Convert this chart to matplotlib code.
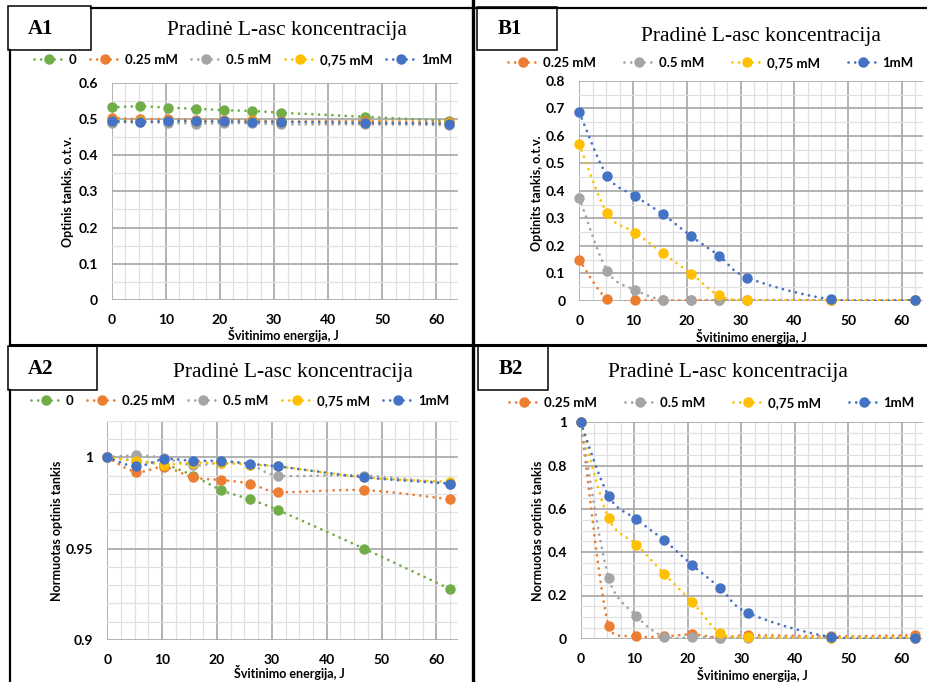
import numpy as np
import matplotlib
matplotlib.use("Agg")
import matplotlib.pyplot as plt
from matplotlib.lines import Line2D
from matplotlib.patches import Rectangle
from matplotlib.ticker import MultipleLocator, FormatStrFormatter
from matplotlib.transforms import Affine2D

# švitinimo energija, J
energija = [0, 5.2, 10.4, 15.6, 20.8, 26, 31.2, 46.8, 62.4]

# A1 - optinis tankis
a1_0 = [0.532, 0.535, 0.531, 0.528, 0.524, 0.522, 0.517, 0.506, 0.494]
a1_025 = [0.503, 0.499, 0.500, 0.497, 0.497, 0.496, 0.493, 0.494, 0.491]
a1_05 = [0.490, 0.491, 0.489, 0.487, 0.488, 0.488, 0.485, 0.485, 0.483]
a1_075 = [0.495, 0.494, 0.493, 0.494, 0.493, 0.493, 0.492, 0.490, 0.488]
a1_1 = [0.494, 0.492, 0.494, 0.493, 0.493, 0.492, 0.492, 0.489, 0.487]

# A2 - normuotas
a2_0 = [1, 0.998, 0.996, 0.990, 0.982, 0.977, 0.971, 0.950, 0.928]
a2_025 = [1, 0.992, 0.9946, 0.989, 0.9875, 0.9856, 0.981, 0.982, 0.977]
a2_05 = [1, 1.001, 0.9996, 0.9955, 0.997, 0.996, 0.990, 0.990, 0.9856]
a2_075 = [1, 0.998, 0.996, 0.997, 0.9968, 0.996, 0.995, 0.989, 0.9865]
a2_1 = [1, 0.995, 0.999, 0.998, 0.998, 0.9964, 0.995, 0.989, 0.9856]

# B1 - optinis tankis
b1_025 = [0.148, 0.006, 0.002, 0.001, 0.001, 0.001, 0.001, 0.001, 0.001]
b1_05 = [0.375, 0.108, 0.039, 0.002, 0.002, 0.002, 0.002, 0.002, 0.002]
b1_075 = [0.570, 0.318, 0.248, 0.172, 0.099, 0.019, 0.002, 0.001, 0.001]
b1_1 = [0.686, 0.454, 0.381, 0.314, 0.235, 0.164, 0.084, 0.005, 0.002]

# B2 - normuotas
b2_025 = [1, 0.059, 0.012, 0.011, 0.020, 0.006, 0.017, 0.011, 0.017]
b2_05 = [1, 0.282, 0.105, 0.009, 0.008, 0.005, 0.005, 0.005, 0.005]
b2_075 = [1, 0.556, 0.435, 0.300, 0.170, 0.028, 0.008, 0.006, 0.006]
b2_1 = [1, 0.660, 0.552, 0.455, 0.341, 0.236, 0.120, 0.008, 0.002]

pavadinimai = ["0", "0.25 mM", "0.5 mM", "0,75 mM", "1mM"]
spalvos = ["#70AD47", "#ED7D31", "#A5A5A5", "#FFC000", "#4472C4"]

W, H = 927, 682
taskai = (0, (0.01, 2.4))
sans = "Lato"
serif = "Liberation Serif"

fig = plt.figure(figsize=(W / 100, H / 100), dpi=100)
# pikseliai nuo virsutinio kairiojo kampo
px = Affine2D().scale(1 / W, -1 / H).translate(0, 1) + fig.transFigure


def glotni(ax, x, y, n=24):
    # Bezier kreive per taskus (kaip Excel "smoothed line"), skaiciuojama ekrano taskais
    p = ax.transData.transform(np.column_stack([x, y]).astype(float))
    t = np.linspace(0, 1, n)[:, None]
    dalys = []
    for i in range(len(p) - 1):
        p0 = p[i - 1] if i > 0 else p[i]
        p1, p2 = p[i], p[i + 1]
        p3 = p[i + 2] if i + 2 < len(p) else p[i + 1]
        ilgis = np.hypot(*(p2 - p1))
        h1 = (p2 - p0) / 6
        h2 = (p3 - p1) / 6
        for h in (h1, h2):
            m = np.hypot(*h)
            if m > 0.5 * ilgis:
                h *= 0.5 * ilgis / m
        c1 = p1 + h1
        c2 = p2 - h2
        seg = (1 - t) ** 3 * p1 + 3 * (1 - t) ** 2 * t * c1 + 3 * (1 - t) * t ** 2 * c2 + t ** 3 * p2
        dalys.append(seg if i == 0 else seg[1:])
    k = ax.transData.inverted().transform(np.vstack(dalys))
    return k[:, 0], k[:, 1]


def asis(l, t, r, b):
    return fig.add_axes([l / W, 1 - b / H, (r - l) / W, (b - t) / H])


def grafikas(ax, serijos, spalv, ymax, ymin, ymaj, ymin_step, ylabel, xl, yl):
    ax.set_xlim(0, 64)
    ax.set_ylim(ymin, ymax)
    ax.xaxis.set_major_locator(MultipleLocator(10))
    ax.xaxis.set_minor_locator(MultipleLocator(2.5))
    ax.yaxis.set_major_locator(MultipleLocator(ymaj))
    ax.yaxis.set_minor_locator(MultipleLocator(ymin_step))
    ax.yaxis.set_major_formatter(FormatStrFormatter("%g"))
    ax.grid(which="major", color="#A6A6A6", lw=1.2, zorder=0)
    ax.grid(which="minor", color="#E0E0E0", lw=0.9, zorder=0)
    ax.set_axisbelow(True)
    for s in ax.spines.values():
        s.set_visible(False)
    ax.tick_params(which="both", length=0)
    ax.tick_params(axis="x", pad=10)
    ax.tick_params(axis="y", pad=10)
    for lab in ax.get_xticklabels() + ax.get_yticklabels():
        lab.set_fontfamily(sans)
        lab.set_fontweight("bold")
        lab.set_fontsize(10)
    for y, c in zip(serijos, spalv):
        gx, gy = glotni(ax, energija, y)
        ax.plot(gx, gy, color=c, lw=2.0, ls=taskai, dash_capstyle="round")
        ax.plot(energija, y, "o", color=c, ms=6.5, clip_on=False)
    ax.set_xlabel("Švitinimo energija, J", fontfamily=sans, fontweight="bold", fontsize=9, va="center")
    ax.set_ylabel(ylabel, fontfamily=sans, fontweight="bold", fontsize=9, va="center")
    ax.xaxis.set_label_coords(*xl, transform=px)
    ax.yaxis.set_label_coords(*yl, transform=px)


axA1 = asis(111.7, 82.7, 458, 300)
axB1 = asis(579.3, 81, 923.3, 300.7)
axA2 = asis(107.3, 420.7, 458.3, 640)
axB2 = asis(580.7, 422.3, 923.3, 638.8)

grafikas(axA1, [a1_0, a1_025, a1_05, a1_075, a1_1], spalvos, 0.6, 0, 0.1, 0.05,
         "Optinis tankis, o.t.v.", (283, 334), (68, 192))
grafikas(axB1, [b1_025, b1_05, b1_075, b1_1], spalvos[1:], 0.8, 0, 0.1, 0.05,
         "Optinits tankis, o.t.v.", (751, 337), (537, 193))
grafikas(axA2, [a2_0, a2_025, a2_05, a2_075, a2_1], spalvos, 1.02, 0.9, 0.05, 0.01,
         "Normuotas optinis tankis", (289, 673), (57, 531))
grafikas(axB2, [b2_025, b2_05, b2_075, b2_1], spalvos[1:], 1.0, 0, 0.2, 0.05,
         "Normuotas optinis tankis", (752, 674), (538, 531))

# remeliai, pavadinimai ir legendos - pikseliais
ramas = fig.add_axes([0, 0, 1, 1], zorder=10)
ramas.set_xlim(0, W)
ramas.set_ylim(H, 0)
ramas.axis("off")

ramas.plot([91, W], [7.5, 7.5], color="black", lw=1.6)
ramas.plot([10, 10], [50, 345], color="black", lw=1.6)
ramas.plot([10, 10], [390, H], color="black", lw=1.6)
ramas.plot([473, 473], [0, H], color="black", lw=2.4)
ramas.plot([10, W], [345, 345], color="black", lw=2.2)

dezutes = [("A1", 8, 6, 83, 44), ("B1", 477, 7, 80, 43), ("A2", 8, 346, 89, 44), ("B2", 478, 346, 70, 44)]
for tekstas, x, y, w, h in dezutes:
    ramas.add_patch(Rectangle((x, y), w, h, facecolor="white", edgecolor="black", lw=1.1))
    ramas.text(x + 33, y + h / 2 + 1, tekstas, ha="center", va="center", fontfamily=serif,
               fontweight="bold", fontsize=15)

pavadinimas = "Pradinė L-asc koncentracija"
for x, y in [(287, 31), (761, 36), (293, 373), (728, 373)]:
    ramas.text(x, y, pavadinimas, ha="center", va="center", fontfamily=serif, fontsize=15.5)


def legenda(ax, spalv, vardai, cx, cy, tarpas):
    rankenos = [Line2D([], [], color=c, lw=2.0, ls=taskai, dash_capstyle="round", marker="o",
                       ms=6.5) for c in spalv]
    ax.legend(rankenos, vardai, ncol=len(vardai), loc="center", bbox_to_anchor=(cx, cy),
              bbox_transform=ramas.transData, frameon=False, handlelength=2.3,
              handletextpad=0.35, columnspacing=tarpas,
              prop={"family": sans, "weight": "bold", "size": 9.5})


legenda(axA1, spalvos, pavadinimai, 243, 60, 1.0)
legenda(axB1, spalvos[1:], pavadinimai[1:], 711, 63, 2.1)
legenda(axA2, spalvos, pavadinimai, 240, 401, 1.0)
legenda(axB2, spalvos[1:], pavadinimai[1:], 712, 403, 2.1)

fig.savefig("out.png", dpi=100)
